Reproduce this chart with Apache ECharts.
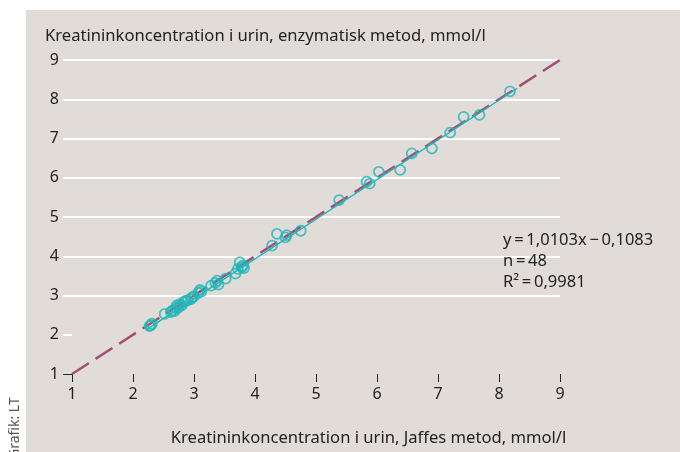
<!DOCTYPE html>
<html><head><meta charset="utf-8">
<script src="https://cdn.jsdelivr.net/npm/echarts@6/dist/echarts.min.js"></script>
<style>html,body{margin:0;padding:0;background:#fff}#c{width:680px;height:452px}</style>
</head><body><div id="c"></div>
<script>
const xTicks = [1,2,3,4,5,6,7,8,9];
const yTicks = [1,2,3,4,5,6,7,8,9];
const points = [
  [2.27,2.22],[2.29,2.24],[2.31,2.28],[2.52,2.53],[2.62,2.58],[2.65,2.62],[2.68,2.60],[2.70,2.68],
  [2.72,2.75],[2.75,2.70],[2.77,2.78],[2.80,2.75],[2.83,2.83],[2.86,2.86],[2.90,2.88],[2.97,2.95],
  [3.00,2.98],[3.07,3.07],[3.10,3.14],[3.28,3.25],[3.35,3.32],[3.38,3.38],[3.40,3.28],[3.52,3.43],
  [3.68,3.56],[3.72,3.68],[3.75,3.85],[3.78,3.72],[3.80,3.76],[3.82,3.70],[4.28,4.27],[4.36,4.57],
  [4.50,4.48],[4.52,4.54],[4.75,4.65],[5.38,5.43],[5.83,5.90],[5.88,5.85],[6.03,6.15],[6.38,6.20],
  [6.57,6.62],[6.90,6.75],[7.20,7.15],[7.42,7.55],[7.68,7.60],[8.18,8.20],[2.95,2.91],[3.12,3.10]
];
const identityLine = [[1,1],[9,9]];
const regressionLine = [[2.22,2.13],[8.30,8.28]];
const titleY = 'Kreatininkoncentration i urin, enzymatisk metod, mmol/l';
const titleX = 'Kreatininkoncentration i urin, Jaffes metod, mmol/l';
const statsLines = ['y\u2009=\u20091,0103x\u2009\u2212\u20090,1083','n\u2009=\u200948','R\u00b2\u2009=\u20090,9981'];
const credit = 'Grafik: LT';

const FONT = '"Noto Sans", sans-serif';
const chart = echarts.init(document.getElementById('c'), null, {renderer:'canvas'});
chart.setOption({
  backgroundColor: '#e2dcd9',
  animation: false,
  textStyle: {fontFamily: FONT},
  title: {text: titleY, left: 40, top: 23, textStyle: {fontFamily: FONT, fontSize: 16.6, fontWeight: 'normal', color: '#222'}},
  grid: {left: 72, right: 120, top: 60, bottom: 72, containLabel: false},
  xAxis: {
    type: 'value', min: 1, max: 9, interval: 1,
    name: titleX, nameLocation: 'middle', nameGap: 56,
    nameTextStyle: {fontFamily: FONT, fontSize: 16.6, color: '#222', padding: [0,0,0,105]},
    axisLine: {show: false},
    axisTick: {show: true, length: 8, lineStyle: {color: '#222', width: 1}},
    axisLabel: {fontFamily: FONT, fontSize: 16, color: '#222', margin: 12, customValues: xTicks},
    splitLine: {show: false}
  },
  yAxis: [{
    type: 'value', min: 1, max: 9, interval: 1,
    axisLine: {show: false},
    axisTick: {show: true, length: 9, lineStyle: {color: '#ffffff', width: 2}, customValues: yTicks.slice(1)},
    axisLabel: {fontFamily: FONT, fontSize: 16, color: '#222', margin: 13, customValues: yTicks},
    splitLine: {show: true, showMinLine: false, lineStyle: {color: '#ffffff', width: 2}}
  },{
    type: 'value', min: 1, max: 9, interval: 1, position: 'left',
    axisLine: {show: false},
    axisTick: {show: true, length: 9, lineStyle: {color: '#222', width: 1}, customValues: [yTicks[0]]},
    axisLabel: {show: false},
    splitLine: {show: false}
  }],
  series: [
    {type: 'line', data: identityLine, symbol: 'none', silent: true, z: 2,
     lineStyle: {color: '#a34e72', width: 2.5, type: [20, 8]}},
    {type: 'line', data: regressionLine, symbol: 'none', silent: true, z: 3,
     lineStyle: {color: '#20b5b8', width: 1.3}},
    {type: 'scatter', data: points, symbol: 'circle', symbolSize: 10, z: 4,
     itemStyle: {color: 'rgba(0,0,0,0)', borderColor: '#1fb6b9', borderWidth: 1.8}}
  ],
  graphic: [
    {type: 'rect', left: 0, top: 0, shape: {width: 680, height: 10}, style: {fill: '#ffffff'}, z: 100},
    {type: 'rect', left: 0, top: 0, shape: {width: 26, height: 452}, style: {fill: '#ffffff'}, z: 100},
    {type: 'text', x: 8, y: 459, rotation: Math.PI/2, z: 101,
     style: {text: credit, font: '14px ' + FONT, fill: '#555', textAlign: 'left', textVerticalAlign: 'top'}},
    {type: 'text', left: 503, top: 230, z: 101,
     style: {text: statsLines.join('\n'), font: '16.5px ' + FONT, lineHeight: 21, fill: '#222'}}
  ]
});
</script></body></html>
